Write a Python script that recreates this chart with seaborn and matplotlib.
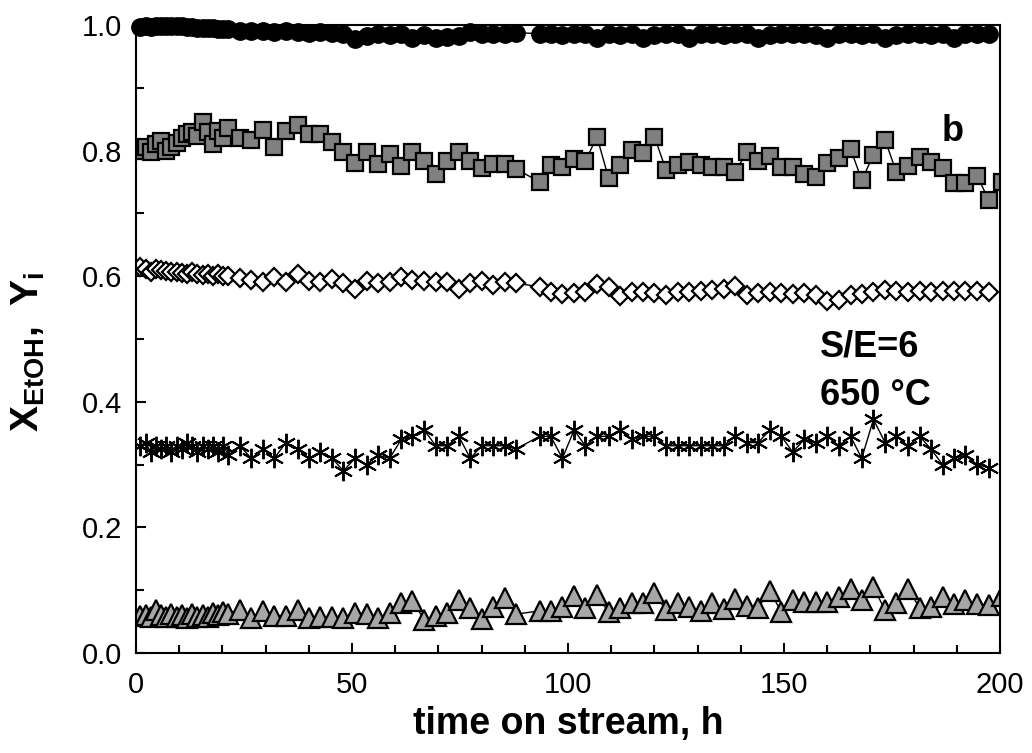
"""Catalyst stability over time on stream (S/E=6, 650 C)."""

import matplotlib
matplotlib.use("Agg")
import matplotlib.pyplot as plt
from matplotlib.ticker import MultipleLocator
import seaborn as sns

# time on stream, h (dense sampling for the first ~20 h)
times = [
    1.0, 2.2, 3.4, 4.6, 5.8, 7.0, 8.2, 9.4, 10.6, 11.8, 13.0, 14.2, 15.4, 16.6, 17.8, 19.0, 20.2,
    21.4, 24.0, 26.7, 29.4, 32.0, 34.7, 37.4, 40.0, 42.7, 45.4, 48.0, 50.7, 53.4, 56.0, 58.7,
    61.4, 64.0, 66.7, 69.4, 72.0, 74.7, 77.4, 80.0, 82.7, 85.4, 88.0,
    93.4, 96.0, 98.7, 101.4, 104.0, 106.7, 109.4, 112.0, 114.7, 117.4, 120.0, 122.7, 125.4,
    128.0, 130.7, 133.4, 136.0, 138.7, 141.4, 144.0, 146.7, 149.4, 152.0, 154.7, 157.4, 160.0,
    162.7, 165.4, 168.0, 170.7, 173.4, 176.0, 178.7, 181.4, 184.0, 186.7, 189.4, 192.0, 194.7,
    197.4,
]
times_ext = times + [200.4]

x_etoh = [
    0.997, 0.998, 0.997, 0.998, 0.998, 0.999, 0.998, 0.998, 0.998, 0.997, 0.997, 0.996, 0.996,
    0.995, 0.995, 0.994, 0.993,
    0.993, 0.991, 0.990, 0.990, 0.989, 0.990, 0.989, 0.988, 0.989, 0.988, 0.986, 0.978, 0.983,
    0.986, 0.984, 0.986, 0.979, 0.984, 0.979, 0.981, 0.983, 0.989, 0.985, 0.986, 0.985, 0.988,
    0.986, 0.985, 0.984, 0.986, 0.985, 0.979, 0.985, 0.984, 0.986, 0.979, 0.984, 0.985, 0.986,
    0.979, 0.985, 0.986, 0.984, 0.985, 0.986, 0.979, 0.984, 0.985, 0.986, 0.985, 0.984, 0.979,
    0.985, 0.986, 0.984, 0.985, 0.979, 0.984, 0.986, 0.985, 0.984, 0.986, 0.979, 0.985, 0.986,
    0.985,
]

y_sq = [
    0.800, 0.805, 0.798, 0.810, 0.815, 0.800, 0.805, 0.812, 0.820, 0.826, 0.830, 0.824, 0.845,
    0.830, 0.810, 0.832, 0.820,
    0.836, 0.820, 0.817, 0.833, 0.806, 0.831, 0.841, 0.826, 0.826, 0.814, 0.798, 0.780, 0.798,
    0.779, 0.795, 0.776, 0.798, 0.783, 0.763, 0.783, 0.798, 0.783, 0.772, 0.779, 0.779, 0.771,
    0.750, 0.777, 0.774, 0.787, 0.783, 0.822, 0.756, 0.777, 0.801, 0.796, 0.822, 0.769, 0.777,
    0.782, 0.777, 0.774, 0.774, 0.766, 0.798, 0.783, 0.791, 0.774, 0.774, 0.763, 0.758, 0.780,
    0.788, 0.803, 0.753, 0.793, 0.817, 0.766, 0.776, 0.790, 0.782, 0.772, 0.748, 0.748, 0.760,
    0.721, 0.750,
]

y_dia = [
    0.615, 0.612, 0.606, 0.612, 0.610, 0.608, 0.607, 0.606, 0.605, 0.604, 0.606, 0.603, 0.602,
    0.604, 0.601, 0.603, 0.600,
    0.600, 0.597, 0.594, 0.591, 0.599, 0.591, 0.603, 0.592, 0.591, 0.596, 0.589, 0.580, 0.592,
    0.589, 0.591, 0.599, 0.594, 0.592, 0.591, 0.591, 0.580, 0.589, 0.592, 0.586, 0.591, 0.589,
    0.583, 0.575, 0.572, 0.573, 0.575, 0.588, 0.583, 0.568, 0.575, 0.575, 0.573, 0.570, 0.575,
    0.575, 0.577, 0.578, 0.579, 0.584, 0.570, 0.573, 0.575, 0.573, 0.572, 0.573, 0.570, 0.561,
    0.562, 0.570, 0.572, 0.575, 0.578, 0.577, 0.575, 0.577, 0.575, 0.577, 0.577, 0.577, 0.577,
    0.575,
]

y_star = [
    0.330, 0.335, 0.320, 0.330, 0.325, 0.330, 0.320, 0.330, 0.325, 0.335, 0.330, 0.320, 0.330,
    0.325, 0.330, 0.320, 0.330,
    0.315, 0.330, 0.310, 0.325, 0.310, 0.335, 0.325, 0.310, 0.320, 0.310, 0.290, 0.310, 0.300,
    0.315, 0.310, 0.340, 0.345, 0.355, 0.330, 0.330, 0.345, 0.310, 0.330, 0.330, 0.330, 0.325,
    0.345, 0.345, 0.310, 0.355, 0.330, 0.345, 0.345, 0.355, 0.340, 0.345, 0.345, 0.330, 0.330,
    0.330, 0.330, 0.330, 0.330, 0.345, 0.335, 0.335, 0.355, 0.345, 0.320, 0.340, 0.335, 0.345,
    0.330, 0.345, 0.310, 0.372, 0.335, 0.345, 0.330, 0.345, 0.325, 0.300, 0.310, 0.315, 0.300,
    0.295,
]

y_tri = [
    0.059, 0.060, 0.058, 0.068, 0.060, 0.057, 0.062, 0.058, 0.060, 0.055, 0.062, 0.058, 0.060,
    0.057, 0.064, 0.060, 0.066,
    0.062, 0.068, 0.056, 0.067, 0.059, 0.059, 0.068, 0.056, 0.057, 0.057, 0.056, 0.064, 0.062,
    0.056, 0.064, 0.080, 0.083, 0.053, 0.059, 0.064, 0.084, 0.072, 0.054, 0.073, 0.087, 0.062,
    0.067, 0.067, 0.073, 0.091, 0.072, 0.092, 0.065, 0.072, 0.080, 0.080, 0.095, 0.068, 0.080,
    0.073, 0.067, 0.080, 0.070, 0.086, 0.075, 0.072, 0.099, 0.065, 0.084, 0.081, 0.081, 0.081,
    0.089, 0.102, 0.084, 0.105, 0.068, 0.080, 0.102, 0.072, 0.073, 0.089, 0.078, 0.084, 0.078,
    0.076, 0.090,
]

sns.set_style("ticks")
plt.rcParams["font.family"] = ["Liberation Sans", "DejaVu Sans"]
plt.rcParams["mathtext.fontset"] = "custom"
plt.rcParams["mathtext.rm"] = "Liberation Sans"
plt.rcParams["mathtext.bf"] = "Liberation Sans:bold"
for key in ["text.color", "axes.labelcolor", "xtick.color", "ytick.color", "axes.edgecolor"]:
    plt.rcParams[key] = "black"

fig = plt.figure(figsize=(10.32, 7.53), dpi=100)
ax = fig.add_axes([0.1318, 0.1328, 0.8372, 0.834])

line_kw = dict(color="black", linewidth=1.0, estimator=None, markeredgecolor="black", ax=ax)
sns.lineplot(x=times_ext, y=y_tri, marker="^", markersize=14, markerfacecolor="#a6a6a6",
             markeredgewidth=1.6, **line_kw)
sns.lineplot(x=times, y=y_star, marker=(6, 2, 0), markersize=14, markeredgewidth=1.4, **line_kw)
sns.lineplot(x=times, y=y_dia, marker="D", markersize=9, markerfacecolor="white",
             markeredgewidth=1.6, **line_kw)
sns.lineplot(x=times_ext, y=y_sq, marker="s", markersize=12, markerfacecolor="#808080",
             markeredgewidth=1.6, **line_kw)
sns.lineplot(x=times, y=x_etoh, marker="o", markersize=12.5, markerfacecolor="black",
             markeredgewidth=1.0, clip_on=False, **line_kw)

ax.set_xlim(0, 200)
ax.set_ylim(0, 1.0)
ax.xaxis.set_major_locator(MultipleLocator(50))
ax.xaxis.set_minor_locator(MultipleLocator(10))
ax.yaxis.set_major_locator(MultipleLocator(0.2))
ax.yaxis.set_minor_locator(MultipleLocator(0.1))
ax.tick_params(which="both", direction="in", width=1.5, labelsize=21, top=False, right=False)
ax.tick_params(which="major", length=7, pad=10)
ax.tick_params(axis="x", which="major", pad=13)
ax.tick_params(which="minor", length=6)
ax.set_yticklabels([f"{v:.1f}" for v in ax.get_yticks()])
for sp in ax.spines.values():
    sp.set_linewidth(1.5)
    sp.set_visible(True)

ax.set_xlabel("time on stream, h", fontsize=27, fontweight="bold", labelpad=5)
ax.set_ylabel(r"$\mathbf{X_{EtOH},\ Y_i}$", fontsize=28)
ax.yaxis.set_label_coords(-0.103, 0.48)

ax.text(186.5, 0.831, "b", fontsize=26, fontweight="bold", va="center")
ax.text(158.3, 0.487, "S/E=6", fontsize=26, fontweight="bold", va="center")
ax.text(158.3, 0.410, "650 °C", fontsize=26, fontweight="bold", va="center")

fig.savefig("out.png", dpi=100)
